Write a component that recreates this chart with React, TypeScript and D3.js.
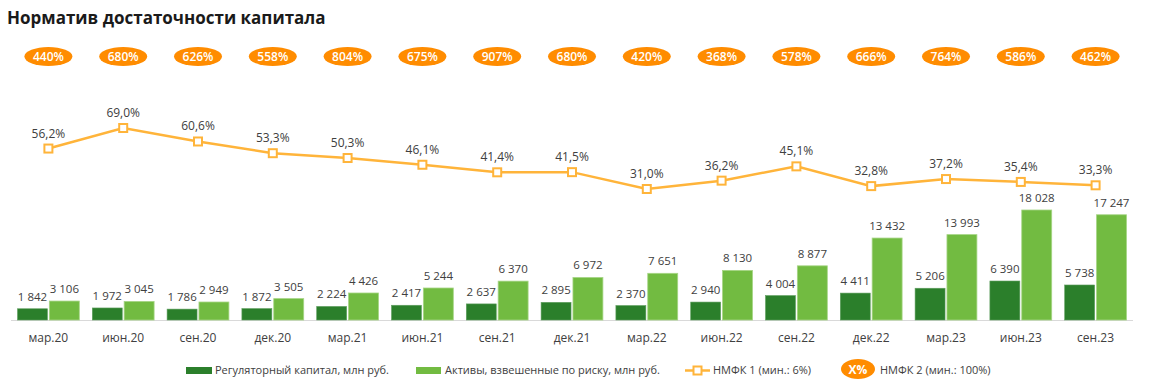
import React from "react";
import * as d3 from "d3";

const categories = ["мар.20", "июн.20", "сен.20", "дек.20", "мар.21", "июн.21", "сен.21", "дек.21", "мар.22", "июн.22", "сен.22", "дек.22", "мар.23", "июн.23", "сен.23"];
const regCapital = [1842, 1972, 1786, 1872, 2224, 2417, 2637, 2895, 2370, 2940, 4004, 4411, 5206, 6390, 5738];
const riskAssets = [3106, 3045, 2949, 3505, 4426, 5244, 6370, 6972, 7651, 8130, 8877, 13432, 13993, 18028, 17247];
const nmfk1 = [56.2, 69.0, 60.6, 53.3, 50.3, 46.1, 41.4, 41.5, 31.0, 36.2, 45.1, 32.8, 37.2, 35.4, 33.3];
const nmfk2 = [440, 680, 626, 558, 804, 675, 907, 680, 420, 368, 578, 666, 764, 586, 462];

const W = 1153;
const H = 386;
const FONT = "'Open Sans', 'Noto Sans', sans-serif";
const TXT = "#404040";
const DARK = "#2b7f2b";
const LIGHT = "#72bb41";
const LINE = "#ffb43a";
const BADGE = "#ff8c00";

const fmt = (v: number) => {
  const s = String(v);
  return s.length > 3 ? s.slice(0, s.length - 3) + " " + s.slice(-3) : s;
};
const fmtPct = (v: number) => v.toFixed(1).replace(".", ",") + "%";

export default function App() {
  const x = d3.scaleBand<string>().domain(categories).range([11, 1133]).padding(0);
  const bw = x.bandwidth();
  const inner = d3.scaleBand<string>().domain(["reg", "rwa"]).range([6.5, bw - 6.5]).paddingInner(0.06);
  const yB = d3.scaleLinear().domain([0, 18028]).range([320, 210]);
  const yL = d3.scaleLinear().domain([31, 69]).range([189, 128]);
  const cx = (i: number) => (x(categories[i]) as number) + bw / 2;

  const linePath = d3
    .line<number>()
    .x((_, i) => cx(i))
    .y((d) => yL(d))(nmfk1) as string;

  return (
    <svg width={W} height={H} style={{ position: "absolute", left: 0, top: 0, background: "#fff" }} fontFamily={FONT}>
      <text x={7} y={24} fontSize={17} fontWeight={700} fill="#1a1a1a">
        Норматив достаточности капитала
      </text>

      {nmfk2.map((v, i) => (
        <g key={"b" + i}>
          <ellipse cx={cx(i)} cy={56.5} rx={24} ry={9.5} fill={BADGE} />
          <text x={cx(i)} y={61} textAnchor="middle" fontSize={12} fontWeight={600} fill="#fff">
            {v}%
          </text>
        </g>
      ))}

      <line x1={11} x2={1133} y1={320.5} y2={320.5} stroke="#d9d9d9" strokeWidth={1} />

      {categories.map((c, i) => {
        const x0 = x(c) as number;
        const xr = x0 + (inner("reg") as number);
        const xa = x0 + (inner("rwa") as number);
        const ib = inner.bandwidth();
        return (
          <g key={c}>
            <rect x={xr} y={yB(regCapital[i])} width={ib} height={320 - yB(regCapital[i])} fill={DARK} stroke="#5e9e5e" strokeWidth={0.6} />
            <rect x={xa} y={yB(riskAssets[i])} width={ib} height={320 - yB(riskAssets[i])} fill={LIGHT} stroke="#a6d585" strokeWidth={0.8} />
            <text x={xr + ib / 2} y={yB(regCapital[i]) - 8} textAnchor="middle" fontSize={11.5} fill={TXT}>
              {fmt(regCapital[i])}
            </text>
            <text x={xa + ib / 2} y={yB(riskAssets[i]) - 8} textAnchor="middle" fontSize={11.5} fill={TXT}>
              {fmt(riskAssets[i])}
            </text>
            <text x={cx(i)} y={342} textAnchor="middle" fontSize={12} fill={TXT}>
              {c}
            </text>
          </g>
        );
      })}

      <path d={linePath} fill="none" stroke={LINE} strokeWidth={2.5} />
      {nmfk1.map((v, i) => (
        <g key={"l" + i}>
          <rect x={cx(i) - 4} y={yL(v) - 4} width={8} height={8} fill="#fff" stroke={LINE} strokeWidth={2} />
          <text x={cx(i)} y={yL(v) - 11} textAnchor="middle" fontSize={12} fill={TXT}>
            {fmtPct(v)}
          </text>
        </g>
      ))}

      <g fontSize={11} fill={TXT}>
        <rect x={186} y={367} width={26} height={7} fill={DARK} />
        <text x={215} y={374} fill={TXT}>Регуляторный капитал, млн руб.</text>
        <rect x={416} y={367} width={25} height={7} fill={LIGHT} />
        <text x={445} y={374} fill={TXT}>Активы, взвешенные по риску, млн руб.</text>
        <line x1={685} x2={710} y1={370.5} y2={370.5} stroke={LINE} strokeWidth={2.5} />
        <rect x={693.5} y={366.5} width={8} height={8} fill="#fff" stroke={LINE} strokeWidth={2} />
        <text x={713} y={374} fill={TXT}>НМФК 1 (мин.: 6%)</text>
        <ellipse cx={858} cy={369} rx={17} ry={10} fill={BADGE} />
        <text x={858} y={373.5} textAnchor="middle" fontSize={12} fontWeight={700} fill="#fff">X%</text>
        <text x={880} y={374} fill={TXT}>НМФК 2 (мин.: 100%)</text>
      </g>
    </svg>
  );
}
